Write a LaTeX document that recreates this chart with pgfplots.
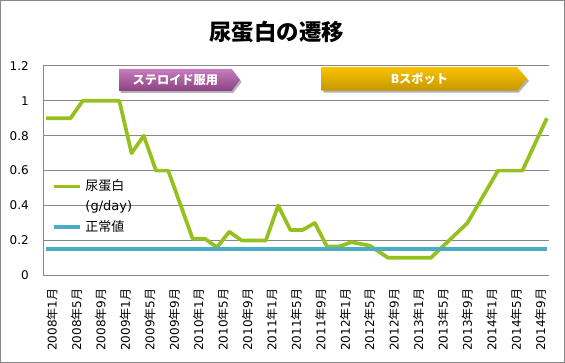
\documentclass[border=0pt]{standalone}
\usepackage{fontspec}
\setmainfont{DejaVu Sans}
\newfontfamily\jp{Noto Sans CJK JP}
\usepackage{pgfplots}
\pgfplotsset{compat=1.18}
\usetikzlibrary{shadows}
\definecolor{lgreen}{HTML}{95C11F}
\definecolor{tealc}{HTML}{4BACC6}
\definecolor{gridg}{HTML}{878787}
\definecolor{purT}{HTML}{C77DBD}
\definecolor{purB}{HTML}{8B4282}
\definecolor{golT}{HTML}{F9C200}
\definecolor{golB}{HTML}{C79700}
\newcommand\ym[2]{#1{\jp 年}#2{\jp 月}}
\begin{document}
\begin{tikzpicture}
\useasboundingbox (0,0) rectangle (423.75pt,272.25pt);
\draw[gridg, line width=0.75pt] (0.375pt,0.375pt) rectangle (423.375pt,271.875pt);
\node[font=\jp\bfseries\fontsize{16.8}{18}\selectfont] at (207.5pt,248.5pt) {尿蛋白の遷移};
\begin{axis}[
  at={(32.475pt,65.775pt)}, anchor=south west,
  scale only axis, width=379.5pt, height=157pt,
  xmin=-0.45, xmax=82.4, ymin=0, ymax=1.2,
  axis x line*=bottom, axis y line*=left,
  axis line style={gridg, line width=0.75pt, -},
  ymajorgrids, grid style={gridg, line width=0.75pt},
  major tick length=0pt,
  ytick={0,0.2,0.4,0.6,0.8,1,1.2},
  xtick={0,4,...,80},
  xticklabels={\ym{2008}{1},\ym{2008}{5},\ym{2008}{9},\ym{2009}{1},\ym{2009}{5},\ym{2009}{9},\ym{2010}{1},\ym{2010}{5},\ym{2010}{9},\ym{2011}{1},\ym{2011}{5},\ym{2011}{9},\ym{2012}{1},\ym{2012}{5},\ym{2012}{9},\ym{2013}{1},\ym{2013}{5},\ym{2013}{9},\ym{2014}{1},\ym{2014}{5},\ym{2014}{9}},
  tick label style={font=\fontsize{9}{10.8}\selectfont},
  /pgf/number format/assume math mode=true,
  yticklabel style={anchor=east, inner sep=0pt, xshift=-10.7pt},
  xticklabel style={inner sep=0pt, xshift=4.5pt, yshift=-9.75pt, rotate=90, anchor=east},
  clip=false,
  legend style={at={(0.0166,0.456)}, anchor=north west, draw=none, fill=none,
    inner sep=0pt, outer sep=0pt, row sep=5.2pt, column sep=2.5pt,
    font=\jp\fontsize{9.75}{11}\selectfont,
    nodes={inner sep=0pt, text height=8pt, text depth=2pt}},
  legend cell align=left,
  legend image code/.code={\draw[#1] (0pt,0pt) -- (20pt,0pt);},
]
\addplot[lgreen, line width=2.8pt, line join=round] coordinates {
(0,0.9)(4,0.9)(6,1.0)(12,1.0)(14,0.7)(16,0.8)(18,0.6)(20,0.6)(24,0.21)(26,0.21)(28,0.16)(30,0.25)(32,0.2)(36,0.2)(38,0.4)(40,0.26)(42,0.26)(44,0.3)(46,0.165)(48,0.165)(50,0.19)(53,0.17)(56,0.1)(63,0.1)(69,0.3)(74,0.6)(78,0.6)(82,0.9)};
\addlegendentry{尿蛋白}
\addlegendimage{empty legend}
\addlegendentry{\normalfont (g/day)}
\addplot[tealc, line width=2.5pt] coordinates {(0,0.15)(82,0.15)};
\addlegendentry{正常値}
\begin{scope}[shift={(axis cs:11.95,1.12)}]
\path[top color=purT, bottom color=purB, drop shadow={shadow xshift=1.2pt, shadow yshift=-1.5pt, opacity=0.3, fill=black}]
  (0pt,8.25pt) -- (84.5pt,8.25pt) -- (90.7pt,0pt) -- (84.5pt,-8.25pt) -- (0pt,-8.25pt) -- cycle;
\node[text=white, font=\jp\bfseries\fontsize{9.15}{10}\selectfont] at (42.25pt,0pt) {ステロイド服用};
\end{scope}
\begin{scope}[shift={(axis cs:45.14,1.1256)}]
\path[top color=golT, bottom color=golB, drop shadow={shadow xshift=1.2pt, shadow yshift=-1.5pt, opacity=0.3, fill=black}]
  (0pt,8.8pt) -- (146.5pt,8.8pt) -- (154.2pt,0pt) -- (146.5pt,-8.8pt) -- (0pt,-8.8pt) -- cycle;
\node[text=white, font=\jp\bfseries\fontsize{9.15}{10}\selectfont] at (73.25pt,0pt) {Bスポット};
\end{scope}
\end{axis}
\end{tikzpicture}
\end{document}
